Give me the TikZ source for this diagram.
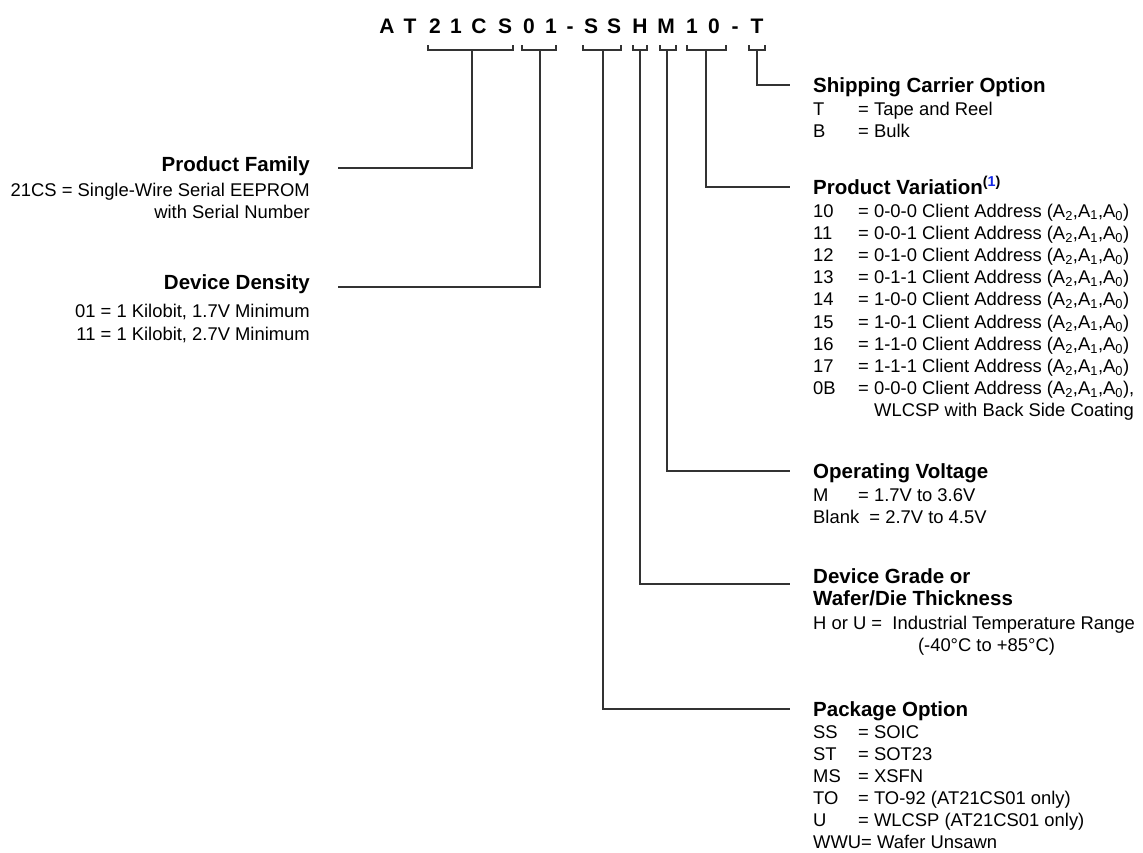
\documentclass[tikz,border=0pt]{standalone}
\usepackage{fontspec}
\setmainfont{Liberation Sans}
\usepackage{xcolor}
\definecolor{refblue}{RGB}{20,40,230}
\usetikzlibrary{positioning}
\newcommand{\addrset}{(A\textsubscript{2},A\textsubscript{1},A\textsubscript{0})}
\tikzset{
  pnchar/.style ={font=\fontsize{21}{24}\selectfont\bfseries,anchor=base,inner sep=0pt},
  heading/.style={font=\fontsize{20.5}{24}\selectfont\bfseries,inner sep=0pt},
  body/.style   ={font=\fontsize{18.4}{22}\selectfont,inner sep=0pt},
  lead/.style   ={line width=1.3pt,draw=black!80},
}

\begin{document}
\begin{tikzpicture}[x=1pt,y=-1pt,every node/.style={text=black}]
  \useasboundingbox (0,0) rectangle (1143,852);
  % part number
  \foreach \ch/\x [count=\i] in {A/387,T/410,2/435,1/456,C/479,S/505,0/529,1/551,-/570,S/591,S/614,H/640,M/666,1/692,0/714,-/735,T/757}
    {\node[pnchar] (c\i) at (\x,33) {\ch};}
  % brackets under the fields
  \foreach \a/\b/\m/\n in {428/513/472/fam,522/556/540/den,583/621/603/pkg,633/647/640/grd,660/676/667/vol,687/726/706/var,749/765/757/car}
    {\draw[lead] (\a,45) -- (\a,50) -- (\b,50) -- (\b,45); \coordinate (\n) at (\m,50);}

  % left column
  \node[heading,anchor=base east] (famhd) at (310,171) {Product Family};
  \node[body,anchor=base east] (fam1) at (310,196) {21CS = Single-Wire Serial EEPROM};
  \node[body,anchor=base east] (fam2) at (310,218) {with Serial Number};
  \node[heading,anchor=base east] (denhd) at (310,289) {Device Density};
  \node[body,anchor=base east] (den1) at (310,317) {01 = 1 Kilobit, 1.7V Minimum};
  \node[body,anchor=base east] (den2) at (310,340) {11 = 1 Kilobit, 2.7V Minimum};

  % shipping carrier
  \node[heading,anchor=base west] (carhd) at (813,92) {Shipping Carrier Option};
  \node[body,anchor=base west] (carT) at (813,115) {T};
  \node[body,anchor=base west] (carTd) at (858,115) {= Tape and Reel};
  \node[body,anchor=base west] (carB) at (813,137) {B};
  \node[body,anchor=base west] (carBd) at (858,137) {= Bulk};

  % product variation
  \node[heading,anchor=base west] (varhd) at (813,194) {Product Variation\textsuperscript{(\textcolor{refblue}{1})}};
  \foreach \code/\bits [count=\i from 0] in {10/0-0-0,11/0-0-1,12/0-1-0,13/0-1-1,14/1-0-0,15/1-0-1,16/1-1-0,17/1-1-1}{
    \node[body,anchor=base west] (varc\i) at (813,217+22.2*\i) {\code};
    \node[body,anchor=base west] (vard\i) at (858,217+22.2*\i) {= \bits\ Client Address \addrset};
  }
  \node[body,anchor=base west] (varc8) at (813,394.6) {0B};
  \node[body,anchor=base west] (vard8) at (858,394.6) {= 0-0-0 Client Address \addrset,};
  \node[body,anchor=base west] (vard9) at (874,416.8) {WLCSP with Back Side Coating};

  % operating voltage
  \node[heading,anchor=base west] (volhd) at (813,478) {Operating Voltage};
  \node[body,anchor=base west] (volM) at (813,501) {M};
  \node[body,anchor=base west] (volMd) at (858,501) {= 1.7V to 3.6V};
  \node[body,anchor=base west] (volB) at (813,523) {Blank\ \ = 2.7V to 4.5V};

  % device grade
  \node[heading,anchor=base west] (grdhd) at (813,583) {Device Grade or};
  \node[heading,anchor=base west] (grdhd2) at (813,605) {Wafer/Die Thickness};
  \node[body,anchor=base west] (grd1) at (813,629) {H or U =\ \ Industrial Temperature Range};
  \node[body,anchor=base west] (grd2) at (813,651) {\phantom{H or U =\ \ Ind}(-40°C to +85°C)};

  % package option
  \node[heading,anchor=base west] (pkghd) at (813,716) {Package Option};
  \foreach \code/\txt [count=\i from 0] in {SS/= SOIC,ST/= SOT23,MS/= XSFN,TO/= TO-92 (AT21CS01 only),U/= WLCSP (AT21CS01 only)}{
    \node[body,anchor=base west] (pkgc\i) at (813,738+22*\i) {\code};
    \node[body,anchor=base west] (pkgd\i) at (858,738+22*\i) {\txt};
  }
  \node[body,anchor=base west] (pkgc5) at (813,848) {WWU= Wafer Unsawn};

  % leader lines
  \coordinate (famEnd) at (338,168);
  \coordinate (denEnd) at (338,287);
  \coordinate (carEnd) at (790,85);
  \coordinate (varEnd) at (790,187);
  \coordinate (volEnd) at (790,471);
  \coordinate (grdEnd) at (790,584);
  \coordinate (pkgEnd) at (790,709);
  \foreach \n in {fam,den,car,var,vol,grd,pkg}{\draw[lead] (\n) |- (\n End);}
\end{tikzpicture}
\end{document}
